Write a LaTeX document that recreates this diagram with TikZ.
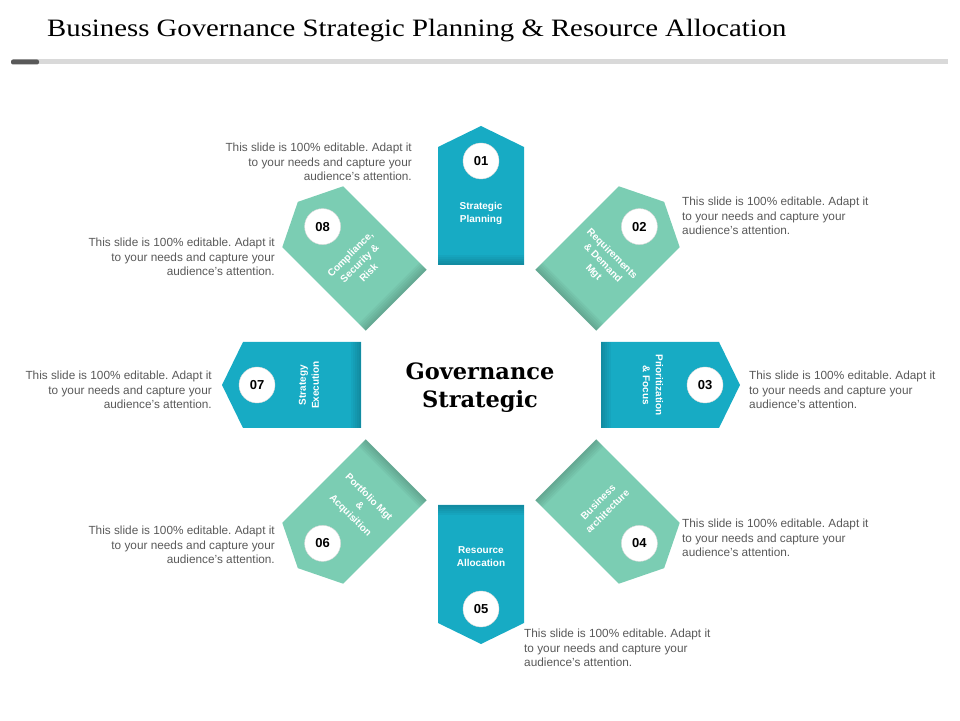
\documentclass[tikz,border=0pt]{standalone}
\usepackage{fontspec}
\setsansfont{Liberation Sans}
\newfontfamily\titlefont[FakeStretch=1.15]{Liberation Serif}
\newfontfamily\hubfont{DejaVu Serif}
\usepackage{tikz}

\definecolor{tealbox}{HTML}{17ABC4}
\definecolor{mintbox}{HTML}{7BCDB3}
\definecolor{notegray}{HTML}{595959}
\newcommand{\slidenote}{This slide is 100\% editable. Adapt it\\to your needs and capture your\\audience's attention.}
\frenchspacing

\begin{document}
\begin{tikzpicture}[x=1pt,y=1pt,
  num node/.style={circle,draw=black!15,fill=white,minimum size=36pt,inner sep=0pt,
    font=\sffamily\bfseries\fontsize{13}{13}\selectfont},
  box label/.style={text=white,align=center,inner sep=0pt,
    font=\sffamily\bfseries\fontsize{10}{13}\selectfont},
  note/.style={text=notegray,inner sep=0pt,font=\sffamily\fontsize{11.8}{14.5}\selectfont}]

  \useasboundingbox (0,0) rectangle (960,720);

  % heading
  \node[anchor=base west,inner sep=0pt,font=\titlefont\fontsize{25}{25}\selectfont] (title) at (47,683)
    {Business Governance Strategic Planning \& Resource Allocation};
  \fill[black!15] (37,655.5) rectangle (948,660.5);
  \fill[notegray,rounded corners=2pt] (11,655.5) rectangle (39,660.5);

  % hub
  \node[align=center,font=\hubfont\bfseries\fontsize{22.5}{28}\selectfont] (hub) at (480,332)
    {Governance\\Strategic};

  % the eight tags
  \begin{scope}[shift={(481,335)}]
  \foreach \a/\n/\col/\rot/\txt in {90/01/tealbox/0/{Strategic\\Planning},
      45/02/mintbox/-45/{Requirements\\\& Demand\\Mgt},
      0/03/tealbox/-90/{Prioritization\\\& Focus},
      -45/04/mintbox/45/{Business\\architecture},
      -90/05/tealbox/0/{Resource\\Allocation},
      -135/06/mintbox/-45/{Portfolio Mgt\\\&\\Acquisition},
      180/07/tealbox/90/{Strategy\\Execution},
      135/08/mintbox/45/{Compliance,\\Security \&\\Risk}}
  {
    \begin{scope}[rotate=\a]
      \fill[\col] (120,-43) -- (238,-43) -- (259,0) -- (238,43) -- (120,43) -- cycle;
      \foreach \k in {2,4,...,10}
        \fill[black,opacity=0.035] (120,-43) rectangle (120+\k,43);
    \end{scope}
    \node[num node] (num\n) at (\a:224) {\n};
    \node[box label,rotate=\rot] (lbl\n) at (\a:172) {\txt};
  }
  \end{scope}

  % notes
  \node[note,anchor=east,align=right] (note1) at (412,558) {\slidenote};
  \node[note,anchor=west,align=left] (note2) at (682,504) {\slidenote};
  \node[note,anchor=west,align=left] (note3) at (749,330) {\slidenote};
  \node[note,anchor=west,align=left] (note4) at (682,182) {\slidenote};
  \node[note,anchor=west,align=left] (note5) at (524,72) {\slidenote};
  \node[note,anchor=east,align=right] (note6) at (275,175) {\slidenote};
  \node[note,anchor=east,align=right] (note7) at (212,330) {\slidenote};
  \node[note,anchor=east,align=right] (note8) at (275,463) {\slidenote};

\end{tikzpicture}
\end{document}
